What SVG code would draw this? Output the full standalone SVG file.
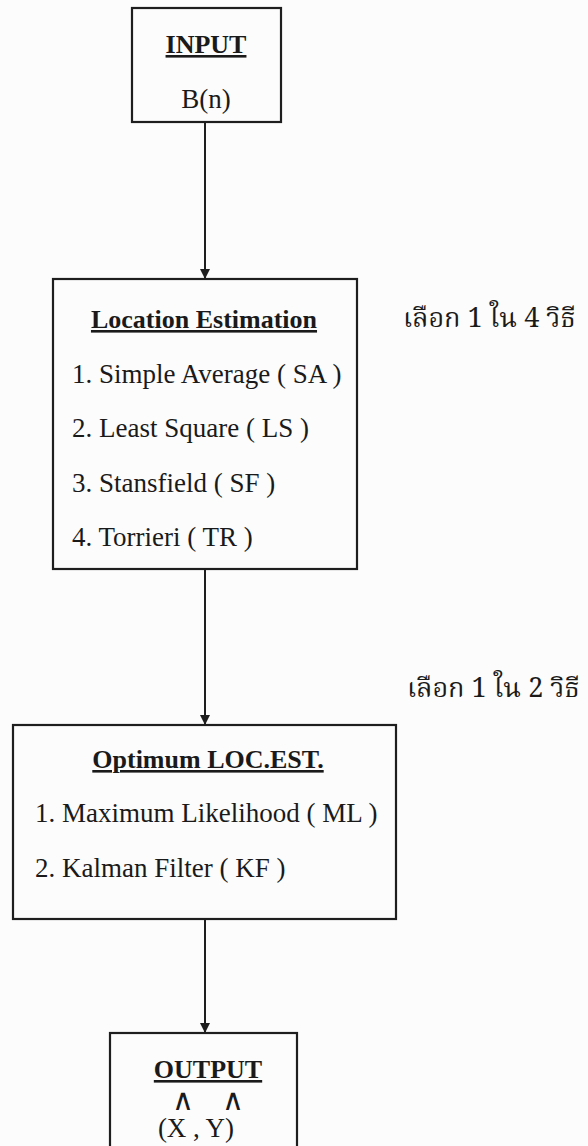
<svg xmlns="http://www.w3.org/2000/svg" width="588" height="1146" viewBox="0 0 588 1146">
<style>
.box{fill:none;stroke:#1e1e1e;stroke-width:2.2}
.t{font-family:"Liberation Serif","Times New Roman",serif;font-size:27px;fill:#1a1a1a}
.h{font-family:"Liberation Serif","Times New Roman",serif;font-size:26px;font-weight:bold;fill:#1a1a1a;text-decoration:underline;text-anchor:middle}
.th{font-family:"Noto Serif Thai","Noto Sans Thai","Loma","Garuda","Liberation Serif",serif;font-size:27px;fill:#1a1a1a}
.hat{font-family:"Liberation Serif","Times New Roman",serif;font-size:30px;fill:#1a1a1a;text-anchor:middle}
.c{stroke:#1e1e1e;stroke-width:2;fill:none}
</style>
<defs>
<marker id="ah" viewBox="0 0 10 10" refX="10" refY="5" markerWidth="10" markerHeight="10" markerUnits="userSpaceOnUse" orient="auto">
<path d="M0,0 L10,5 L0,10 Z" fill="#1e1e1e"/>
</marker>
</defs>
<rect x="0" y="0" width="588" height="1146" fill="#fcfcfc"/>
<g id="connectors">
<line class="c" x1="205" y1="122" x2="205" y2="279" marker-end="url(#ah)"/>
<line class="c" x1="205" y1="569" x2="205" y2="725" marker-end="url(#ah)"/>
<line class="c" x1="205" y1="919" x2="205" y2="1033" marker-end="url(#ah)"/>
</g>
<g id="input">
<rect class="box" x="132" y="8" width="149" height="114"/>
<text class="h" x="206" y="53">INPUT</text>
<text class="t" x="206" y="108" text-anchor="middle">B(n)</text>
</g>
<g id="location">
<rect class="box" x="53" y="279" width="304" height="290"/>
<text class="h" x="204" y="328">Location Estimation</text>
<text class="t" x="72" y="383">1. Simple Average ( SA )</text>
<text class="t" x="72" y="437">2. Least Square ( LS )</text>
<text class="t" x="72" y="492">3. Stansfield ( SF )</text>
<text class="t" x="72" y="546">4. Torrieri ( TR )</text>
</g>
<g id="note1">
<text class="th" x="403" y="327">เลือก 1 ใน 4 วิธี</text>
</g>
<g id="note2">
<text class="th" x="407" y="697">เลือก 1 ใน 2 วิธี</text>
</g>
<g id="optimum">
<rect class="box" x="13" y="725" width="383" height="194"/>
<text class="h" x="208" y="768">Optimum LOC.EST.</text>
<text class="t" x="35" y="822">1. Maximum Likelihood ( ML )</text>
<text class="t" x="35" y="877">2. Kalman Filter ( KF )</text>
</g>
<g id="output">
<rect class="box" x="110" y="1033" width="187" height="120"/>
<text class="h" x="208" y="1078">OUTPUT</text>
<text class="hat" x="183" y="1110">∧</text>
<text class="hat" x="233" y="1110">∧</text>
<text class="t" x="196" y="1137" text-anchor="middle" font-size="28">(X , Y)</text>
</g>
</svg>
